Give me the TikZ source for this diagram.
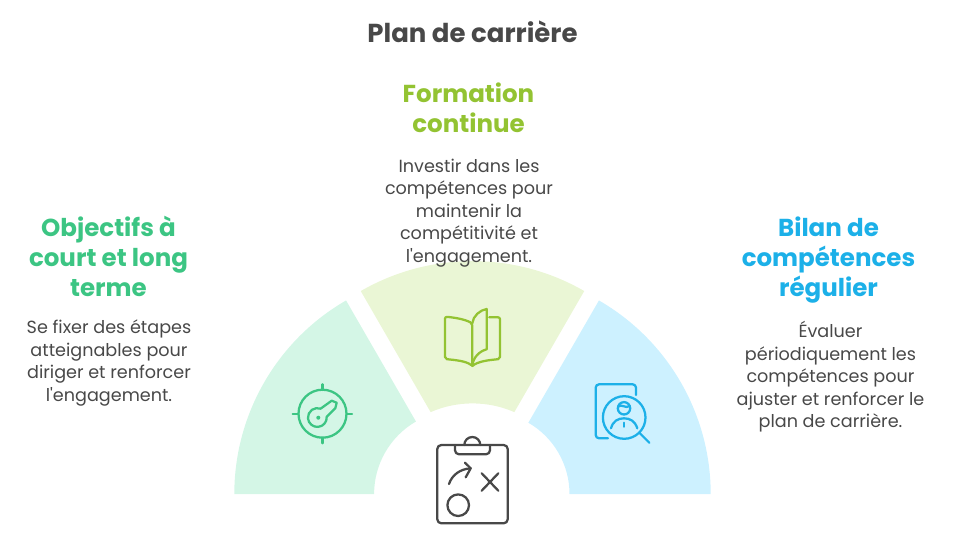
\documentclass[tikz,border=0pt]{standalone}
\usepackage{fontspec}
\setmainfont{Poppins}
\usetikzlibrary{positioning, calc}
\definecolor{InkGray}{HTML}{484848}
\definecolor{KeyGreen}{HTML}{3CC583}
\definecolor{KeyPale}{HTML}{D4F6E6}
\definecolor{BookLime}{HTML}{93C332}
\definecolor{BookPale}{HTML}{EAF6D5}
\definecolor{LensBlue}{HTML}{1CB0E8}
\definecolor{LensPale}{HTML}{CDF1FF}
\tikzset{
    headnode/.style={
        font=\fontsize{18.4}{22.4}\selectfont\bfseries, align=center, inner sep=0pt
    },
    titlenode/.style={
        font=\fontsize{19.5}{22}\selectfont\bfseries, align=center, inner sep=0pt, text=InkGray
    },
    bodynode/.style={
        font=\fontsize{13.2}{16.9}\selectfont, align=center, inner sep=0pt, text=InkGray
    },
    iconline/.style={
        line width=1.7pt, line cap=round, line join=round
    }
}
\begin{document}
\begin{tikzpicture}[x=0.75pt, y=-0.75pt]
    \useasboundingbox (0,0) rectangle (953,542);

    % 1. Secteurs
    \coordinate (apexL) at (457.8,494);
    \coordinate (apexM) at (472.5,484.6);
    \coordinate (apexR) at (487.2,494);
    \fill[KeyPale] (apexL) ++(180:223.5) arc (180:240:223.5) -- ($(apexL)+(240:83.7)$) arc (240:180:83.7) -- cycle;
    \fill[BookPale] (apexM) ++(240:223.5) arc (240:300:223.5) -- ($(apexM)+(300:83.7)$) arc (293.5:246.5:105) -- cycle;
    \fill[LensPale] (apexR) ++(300:223.5) arc (300:360:223.5) -- ($(apexR)+(360:82.3)$) arc (360:300:82.3) -- cycle;

    % 2. Textes
    \node[titlenode] (title) at (472.5,32) {Plan de carrière};
    \node[headnode, text=BookLime] (formhead) at (468.5,107.5) {Formation\\continue};
    \node[bodynode] (formtext) at (469,213) {Investir dans les\\compétences pour\\maintenir la\\compétitivité et\\l\textquotesingle engagement.};
    \node[headnode, text=KeyGreen] (objhead) at (108.5,256.5) {Objectifs à\\court et long\\terme};
    \node[bodynode] (objtext) at (109,363) {Se fixer des étapes\\atteignables pour\\diriger et renforcer\\l\textquotesingle engagement.};
    \node[headnode, text=LensBlue] (bilanhead) at (828.5,260) {Bilan de\\compétences\\régulier};
    \node[bodynode] (bilantext) at (830.5,377) {Évaluer\\périodiquement les\\compétences pour\\ajuster et renforcer le\\plan de carrière.};

    % 3. Icone clé
    \draw[iconline, KeyGreen] (322.5,413.7) circle (24);
    \draw[iconline, KeyGreen] (322.5,384.3) -- (322.5,390) (322.5,437.5) -- (322.5,443.3)
        (292.7,413.7) -- (298.5,413.7) (346.5,413.7) -- (352,413.7);
    \draw[iconline, KeyGreen] (331.7,400.7) -- (336.7,402.7) -- (335.3,408.3) -- (326.7,416.7)
        arc (-5:290:9.4) -- cycle;
    \fill[KeyGreen] (318.3,417.7) circle (2);

    % 4. Icone livre
    \draw[iconline, BookLime, rounded corners=1.5] (472.3,323.3) .. controls (464,319) and (454,317.5) .. (445,316.7)
        -- (445,359) .. controls (455,360) and (466,361) .. (472.3,366) -- cycle;
    \draw[iconline, BookLime] (472.3,323.3) .. controls (473,316) and (480,310) .. (486.7,309)
        -- (486.7,349.3) .. controls (480,351) and (473,357) .. (472.3,366);
    \draw[iconline, BookLime, rounded corners=1.5] (489.3,317.3) -- (500,317.3) -- (500,359)
        .. controls (490,360) and (478,361) .. (472.3,366);

    % 5. Icone loupe
    \draw[iconline, LensBlue, rounded corners=2.5] (636,395) -- (636,384.3) -- (595.7,384.3) -- (595.7,438.3) -- (608,438.3);
    \draw[iconline, LensBlue] (624.2,417.5) circle (21.3);
    \draw[iconline, LensBlue] (639.3,432.7) -- (649.3,442.7);
    \draw[iconline, LensBlue] (624,408.3) circle (6.2);
    \draw[iconline, LensBlue] (618.5,406.5) .. controls (621,403.5) and (626,409) .. (629.5,406);
    \draw[iconline, LensBlue] (611,428.3) .. controls (613,421) and (618,418.3) .. (624,418.3)
        .. controls (630,418.3) and (635,421) .. (637.3,428.3);
    \draw[iconline, LensBlue] (624,422.7) -- (624,426.7);

    % 6. Icone planchette
    \draw[iconline, InkGray, rounded corners=3] (437.3,445) rectangle (507.7,523.3);
    \draw[iconline, InkGray, rounded corners=3] (455,445) -- (455,454.3) -- (490,454.3) -- (490,445);
    \draw[iconline, InkGray] (464.3,445) arc (180:360:8);
    \draw[iconline, InkGray] (449,484) .. controls (452,475) and (460,469) .. (470.7,468.3);
    \draw[iconline, InkGray] (465,462.7) -- (470.7,468.3) -- (465.7,477.3);
    \draw[iconline, InkGray] (481.7,473.3) -- (498.3,490.7) (498.3,473.3) -- (481.7,490.7);
    \draw[iconline, InkGray] (458.2,505.2) circle (10.8);
\end{tikzpicture}
\end{document}
